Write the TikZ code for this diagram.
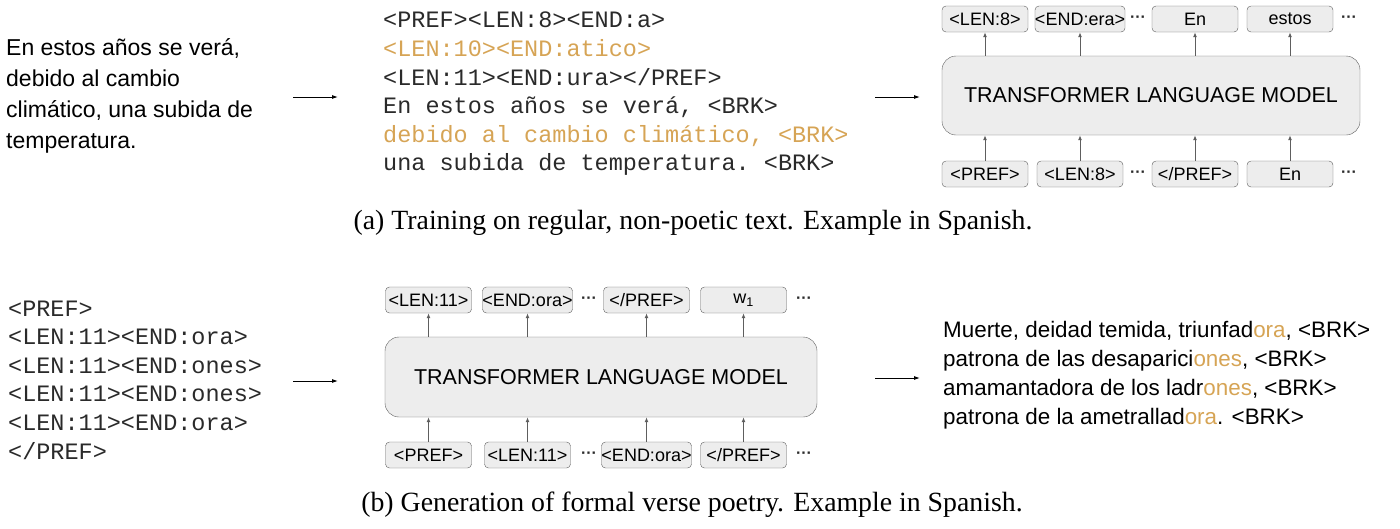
\documentclass[tikz,border=0pt]{standalone}
\usepackage{fontspec}
\setmainfont{Liberation Serif}
\setsansfont{Liberation Sans}
\setmonofont{Liberation Mono}
\usepackage{xcolor}
\usetikzlibrary{positioning, arrows.meta, shapes}
\definecolor{gold}{HTML}{D6A455}
\definecolor{boxfill}{HTML}{EDEDED}
\definecolor{boxline}{HTML}{5E5E5E}
\definecolor{ink}{HTML}{2A2A2A}
\newcommand{\tokdots}{\textperiodcentered\textperiodcentered\textperiodcentered}

\begin{document}
\begin{tikzpicture}[x=1pt, y=-1pt,
    txt/.style={anchor=west, inner sep=0pt, align=left, font=\sffamily\fontsize{23}{31}\selectfont},
    code/.style={anchor=west, inner sep=0pt, align=left, ink, font=\ttfamily\fontsize{23.5}{28.6}\selectfont},
    tok/.style={draw=boxline, fill=boxfill, rounded corners=4pt, minimum width=86pt, minimum height=26pt, inner sep=0pt, font=\sffamily\fontsize{18}{18}\selectfont},
    lm/.style={draw=boxline, fill=boxfill, rounded corners=14pt, inner sep=0pt, font=\sffamily\fontsize{21.5}{21.5}\selectfont},
    flow/.style={-{Latex[length=6pt,width=4pt]}, line width=0.9pt},
    tokarr/.style={-{Latex[length=5pt,width=4pt]}, line width=1pt, boxline},
    dots/.style={inner sep=0pt, ink, font=\sffamily\bfseries\fontsize{16}{16}\selectfont},
    captxt/.style={inner sep=0pt, font=\rmfamily\fontsize{27.8}{27.8}\selectfont}]
        \useasboundingbox (0,0) rectangle (1400,528);

        % (a) Training
        \node[txt] (srcA) at (6,96) {En estos años se verá,\\debido al cambio\\climático, una subida de\\temperatura.};
        \coordinate (arA1) at (293,97);
        \coordinate (arA2) at (338,97);
        \draw[flow] (arA1) -- (arA2);

        \node[code] (codeA) at (383,94) {<PREF><LEN:8><END:a>\\
            \textcolor{gold}{<LEN:10><END:atico>}\\
            <LEN:11><END:ura></PREF>\\
            En estos años se verá, <BRK>\\
            \textcolor{gold}{debido al cambio climático, <BRK>}\\
            una subida de temperatura. <BRK>};
        \coordinate (arA3) at (875,97);
        \coordinate (arA4) at (920,97);
        \draw[flow] (arA3) -- (arA4);

        \node[lm, minimum width=418pt, minimum height=79pt] (lmA) at (1151,95.5) {TRANSFORMER LANGUAGE MODEL};

        % Output tokens
        \node[tok] (outA1) at (985,19) {<LEN:8>};
        \node[tok] (outA2) at (1080,19) {<END:era>};
        \node[tok] (outA3) at (1195,19) {En};
        \node[tok] (outA4) at (1290,19) {estos};
        \node[dots] (dotA1) at (1138,19) {\tokdots};
        \node[dots] (dotA2) at (1349,19) {\tokdots};

        % Input tokens
        \node[tok] (inA1) at (985,174) {<PREF>};
        \node[tok] (inA2) at (1080,174) {<LEN:8>};
        \node[tok] (inA3) at (1195,174) {</PREF>};
        \node[tok] (inA4) at (1290,174) {En};
        \node[dots] (dotA3) at (1138,174) {\tokdots};
        \node[dots] (dotA4) at (1349,174) {\tokdots};

        \foreach \i in {1,...,4} {
            \draw[tokarr] (inA\i) -- (inA\i |- lmA.south);
            \draw[tokarr] (outA\i |- lmA.north) -- (outA\i);
        }

        \node[captxt] (capA) at (693,223) {(a) Training on regular, non-poetic text. Example in Spanish.};

        % (b) Generation
        \node[code] (srcB) at (8,380) {<PREF>\\<LEN:11><END:ora>\\<LEN:11><END:ones>\\<LEN:11><END:ones>\\<LEN:11><END:ora>\\</PREF>};
        \coordinate (arB1) at (293,381);
        \coordinate (arB2) at (338,381);
        \draw[flow] (arB1) -- (arB2);

        \node[lm, minimum width=432pt, minimum height=80pt] (lmB) at (601,377) {TRANSFORMER LANGUAGE MODEL};

        % Output tokens
        \node[tok] (outB1) at (428.5,300) {<LEN:11>};
        \node[tok] (outB2) at (527.5,300) {<END:ora>};
        \node[tok] (outB3) at (646.5,300) {</PREF>};
        \node[tok] (outB4) at (743.5,300) {w\textsubscript{1}};
        \node[dots] (dotB1) at (589,300) {\tokdots};
        \node[dots] (dotB2) at (804,300) {\tokdots};

        % Input tokens
        \node[tok] (inB1) at (428.5,455) {<PREF>};
        \node[tok] (inB2) at (527.5,455) {<LEN:11>};
        \node[tok] (inB3) at (646.5,455) {<END:ora>};
        \node[tok] (inB4) at (743.5,455) {</PREF>};
        \node[dots] (dotB3) at (589,455) {\tokdots};
        \node[dots] (dotB4) at (804,455) {\tokdots};

        \foreach \i in {1,...,4} {
            \draw[tokarr] (inB\i) -- (inB\i |- lmB.south);
            \draw[tokarr] (outB\i |- lmB.north) -- (outB\i);
        }

        \coordinate (arB3) at (875,378);
        \coordinate (arB4) at (920,378);
        \draw[flow] (arB3) -- (arB4);

        \node[txt, font=\sffamily\fontsize{22.4}{29}\selectfont] (poemB) at (943,375) {Muerte, deidad temida, triunfad\textcolor{gold}{ora}, <BRK>\\
            patrona de las desaparici\textcolor{gold}{ones}, <BRK>\\
            amamantadora de los ladr\textcolor{gold}{ones}, <BRK>\\
            patrona de la ametrallad\textcolor{gold}{ora}. <BRK>};

        \node[captxt] (capB) at (692,505) {(b) Generation of formal verse poetry. Example in Spanish.};
    \end{tikzpicture}
\end{document}
